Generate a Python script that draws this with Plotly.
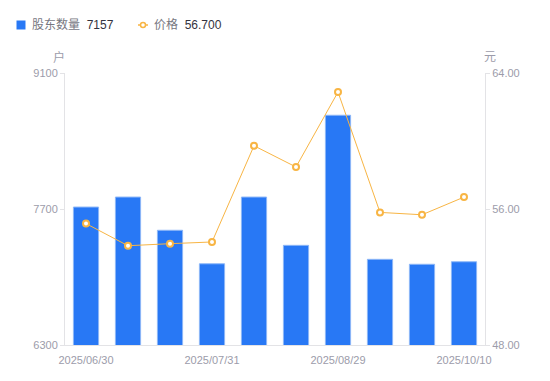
import plotly.graph_objects as go

dates = ["2025/06/30", "2025/07/10", "2025/07/20", "2025/07/31", "2025/08/10",
         "2025/08/20", "2025/08/29", "2025/09/10", "2025/09/30", "2025/10/10"]
holders = [7720, 7823, 7481, 7136, 7823, 7326, 8665, 7182, 7131, 7157]
prices = [55.14, 53.84, 53.96, 54.06, 59.72, 58.47, 62.88, 55.80, 55.66, 56.70]
tick_labels = ["2025/06/30", "2025/07/31", "2025/08/29", "2025/10/10"]
left_ticks = [6300, 7700, 9100]
right_ticks = [48, 56, 64]

BLUE = "#2878F5"
ORANGE = "#F8B544"
GRAY = "#9C9CAA"
AXIS = "#E3E3E6"
FONT = "Liberation Sans, Noto Sans CJK SC, sans-serif"

fig = go.Figure()
fig.add_trace(go.Bar(x=dates, y=holders, width=0.6, name="股东数量",
                     marker=dict(color=BLUE, line=dict(color="#8DB7F7", width=1)),
                     showlegend=False))
fig.add_trace(go.Scatter(x=dates, y=prices, yaxis="y2", mode="lines+markers", name="价格",
                         line=dict(color=ORANGE, width=1),
                         marker=dict(symbol="circle", size=6, color="white",
                                     line=dict(color=ORANGE, width=2)),
                         showlegend=False))

W, H = 550, 381
L, R, T, B = 65, 65, 73, 36
pw, ph = W - L - R, H - T - B

def px(x):
    return (x - L) / pw

def py(y):
    return (H - B - y) / ph

shapes = [
    dict(type="rect", xref="paper", yref="paper", x0=px(16.5), x1=px(25.5), y0=py(29.5), y1=py(20.5),
         fillcolor=BLUE, line=dict(width=0)),
    dict(type="line", xref="paper", yref="paper", x0=px(138), x1=px(148), y0=py(25), y1=py(25),
         line=dict(color=ORANGE, width=1.5)),
    dict(type="circle", xref="paper", yref="paper", x0=px(140.5), x1=px(145.5), y0=py(27.5), y1=py(22.5),
         fillcolor="white", line=dict(color=ORANGE, width=1.5)),
]

annotations = [
    dict(xref="paper", yref="paper", x=px(30), y=py(25), xanchor="left", yanchor="middle",
         text="<span style='color:#77777f'>股东数量</span>  <span style='color:#333340'>7157</span>",
         showarrow=False, font=dict(size=12, family=FONT)),
    dict(xref="paper", yref="paper", x=px(152), y=py(25), xanchor="left", yanchor="middle",
         text="<span style='color:#77777f'>价格</span>  <span style='color:#333340'>56.700</span>",
         showarrow=False, font=dict(size=12, family=FONT)),
    dict(xref="paper", yref="paper", x=px(59), y=py(57), xanchor="center", yanchor="middle",
         text="户", showarrow=False, font=dict(size=12, color=GRAY, family=FONT)),
    dict(xref="paper", yref="paper", x=px(490), y=py(57), xanchor="center", yanchor="middle",
         text="元", showarrow=False, font=dict(size=12, color=GRAY, family=FONT)),
]

fig.update_layout(
    width=W, height=H,
    margin=dict(l=L, r=R, t=T, b=B),
    paper_bgcolor="white", plot_bgcolor="white",
    font=dict(family=FONT, size=11, color=GRAY),
    showlegend=False,
    bargap=0.4,
    shapes=shapes,
    annotations=annotations,
    xaxis=dict(type="category", tickmode="array", tickvals=tick_labels, ticktext=tick_labels,
               showline=True, linecolor=AXIS, linewidth=1, showgrid=False, ticks="",
               ticklabelstandoff=5,
               tickfont=dict(size=11, color=GRAY), range=[-0.5, 9.5]),
    yaxis=dict(range=[6300, 9100], tickvals=left_ticks, showgrid=False, zeroline=False,
               showline=True, linecolor=AXIS, linewidth=1, ticks="outside", ticklen=4,
               tickcolor=AXIS, tickfont=dict(size=11, color=GRAY)),
    yaxis2=dict(range=[48, 64], tickvals=right_ticks, tickformat=".2f", overlaying="y", side="right",
                showgrid=False, zeroline=False, showline=True, linecolor=AXIS, linewidth=1,
                ticks="outside", ticklen=4, tickcolor=AXIS, tickfont=dict(size=11, color=GRAY)),
)

fig.write_html("out.html", config={"displayModeBar": False},
               post_script="document.body.style.margin='0px';")
